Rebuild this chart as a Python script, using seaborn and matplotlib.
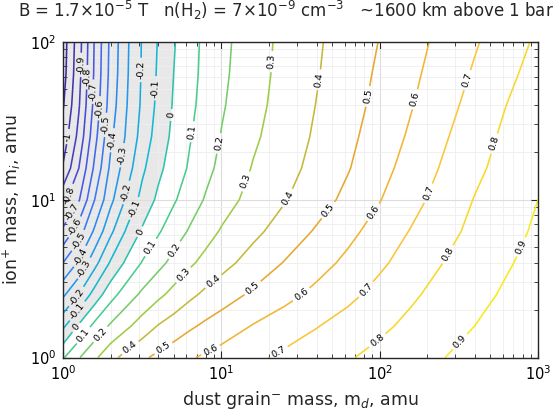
import numpy as np
import matplotlib
matplotlib.use("Agg")
import matplotlib.pyplot as plt
import matplotlib.transforms as mtransforms
from matplotlib.scale import InvertedLogTransform
import seaborn as sns

# ---------------- data ----------------
# grid exponents: dust grain mass m_d = 10**log_md, ion mass m_i = 10**log_mi
log_md = [0.0, 0.1, 0.2, 0.3, 0.4, 0.5, 0.6, 0.7, 0.8, 0.9, 1.0,
          1.2, 1.4, 1.6, 1.8, 2.0, 2.2, 2.4, 2.6, 2.8, 3.0]
log_mi = [0.0, 0.2, 0.4, 0.6, 0.8, 1.0, 1.2, 1.4, 1.6, 1.8, 2.0]

# field values along each row (fixed ion mass), one value per log_md column
z_mi_00 = [0.09, 0.193, 0.282, 0.369, 0.433, 0.483, 0.522, 0.556, 0.590, 0.615, 0.637,
           0.681, 0.720, 0.756, 0.792, 0.827, 0.863, 0.898, 0.927, 0.955, 0.984]
z_mi_02 = [-0.12, 0.013, 0.127, 0.213, 0.280, 0.344, 0.404, 0.444, 0.484, 0.518, 0.547,
           0.605, 0.650, 0.695, 0.738, 0.781, 0.822, 0.861, 0.900, 0.931, 0.962]
z_mi_04 = [-0.32, -0.20, -0.06, 0.061, 0.148, 0.218, 0.276, 0.329, 0.378, 0.419, 0.453,
           0.516, 0.570, 0.624, 0.676, 0.731, 0.786, 0.831, 0.873, 0.912, 0.945]
z_mi_06 = [-0.50, -0.386, -0.233, -0.089, 0.018, 0.106, 0.170, 0.229, 0.284, 0.328, 0.367,
           0.439, 0.505, 0.563, 0.622, 0.683, 0.742, 0.800, 0.845, 0.891, 0.929]
z_mi_08 = [-0.68, -0.55, -0.383, -0.223, -0.089, 0.012, 0.088, 0.152, 0.210, 0.262, 0.308,
           0.376, 0.443, 0.510, 0.574, 0.640, 0.706, 0.769, 0.823, 0.870, 0.914]
z_mi_10 = [-0.83, -0.709, -0.50, -0.327, -0.187, -0.068, 0.019, 0.089, 0.151, 0.208, 0.257,
           0.333, 0.394, 0.458, 0.525, 0.596, 0.668, 0.737, 0.804, 0.852, 0.900]
z_mi_12 = [-0.99, -0.80, -0.58, -0.38, -0.25, -0.12, -0.025, 0.047, 0.112, 0.173, 0.223,
           0.306, 0.367, 0.429, 0.494, 0.567, 0.639, 0.710, 0.778, 0.836, 0.889]
z_mi_14 = [-1.06, -0.870, -0.633, -0.422, -0.288, -0.163, -0.057, 0.024, 0.093, 0.150, 0.204,
           0.284, 0.350, 0.413, 0.477, 0.545, 0.615, 0.687, 0.756, 0.820, 0.877]
z_mi_16 = [-1.11, -0.910, -0.669, -0.453, -0.306, -0.183, -0.077, 0.010, 0.077, 0.135, 0.189,
           0.269, 0.338, 0.402, 0.463, 0.527, 0.595, 0.665, 0.733, 0.800, 0.861]
z_mi_18 = [-1.14, -0.931, -0.684, -0.470, -0.315, -0.190, -0.088, 0.001, 0.068, 0.127, 0.179,
           0.261, 0.330, 0.393, 0.453, 0.515, 0.579, 0.645, 0.711, 0.776, 0.838]
z_mi_20 = [-1.15, -0.942, -0.691, -0.477, -0.320, -0.193, -0.095, -0.007, 0.063, 0.123, 0.173,
           0.256, 0.326, 0.387, 0.445, 0.503, 0.565, 0.627, 0.690, 0.753, 0.816]

contour_levels = [-1.1, -1.0, -0.9, -0.8, -0.7, -0.6, -0.5, -0.4, -0.3, -0.2, -0.1,
                  0.0, 0.1, 0.2, 0.3, 0.4, 0.5, 0.6, 0.7, 0.8, 0.9]

title_text = (r"B = 1.7$\times$10$^{-5}$ T   n(H$_2$) = 7$\times$10$^{-9}$ cm$^{-3}$"
              r"   ~1600 km above 1 bar")
xlabel_text = r"dust grain$^{-}$ mass, m$_d$, amu"
ylabel_text = r"ion$^{+}$ mass, m$_i$, amu"

# ---------------- style / label placement ----------------
sns.set_style("ticks")
plt.rcParams["font.family"] = ["DejaVu Sans"]
plt.rcParams["mathtext.fontset"] = "dejavusans"
plt.rcParams["axes.unicode_minus"] = False

anchor_colors = ["#3d2b9e", "#4540c0", "#4757e6", "#3878f5", "#2199eb", "#14b8d1",
                 "#4ccc8c", "#9ecc47", "#e6a82e", "#fac438", "#f5eb1f"]
level_colors = sns.blend_palette(anchor_colors, n_colors=len(contour_levels))

# where the in-line contour labels sit (m_d, m_i)
label_spots = [
    (1.087, 25.1), (1.285, 71.6),
    (1.439, 59.8), (1.14, 10.5), (1.578, 48.4), (1.186, 8.2),
    (1.706, 38.0), (1.225, 6.59), (1.879, 29.8), (1.285, 5.42),
    (2.018, 23.9), (1.352, 4.26), (2.333, 19.2), (1.419, 3.59),
    (3.11, 66.5), (2.535, 11.1), (1.256, 2.37),
    (3.83, 50.9), (2.80, 8.83), (1.285, 1.905),
    (4.76, 34.5), (3.11, 6.22), (1.222, 1.538),
    (6.53, 27.0), (3.65, 4.92), (1.337, 1.39),
    (9.57, 22.8), (5.12, 4.75), (1.714, 1.41),
    (20.3, 75.2), (14.5, 13.0), (5.78, 3.33),
    (41.6, 57.5), (26.5, 10.2), (8.95, 3.03), (2.61, 1.18),
    (84.9, 45.1), (48.6, 8.41), (15.8, 2.75), (4.29, 1.15),
    (167.5, 43.4), (93.5, 8.2), (32.2, 2.49), (8.47, 1.13),
    (354.8, 57.5), (203.0, 11.0), (82.8, 2.68), (22.9, 1.09),
    (522.0, 22.8), (271.6, 4.47), (98.2, 1.26),
    (771.0, 5.05), (322.0, 1.26),
]

# ---------------- figure ----------------
W, H = 556, 412
fig = plt.figure(figsize=(W / 100, H / 100), dpi=100)
ax = fig.add_axes([63 / W, (H - 357.5) / H, 475 / W, 315.5 / H])
ax.set_xscale("log")
ax.set_yscale("log")
ax.set_xlim(1, 1000)
ax.set_ylim(1, 100)

Z = np.array([z_mi_00, z_mi_02, z_mi_04, z_mi_06, z_mi_08, z_mi_10,
              z_mi_12, z_mi_14, z_mi_16, z_mi_18, z_mi_20])

# contour in exponent space, mapped onto the log axes (10**u, 10**v)
exp_tr = mtransforms.BlendedGenericTransform(InvertedLogTransform(10),
                                             InvertedLogTransform(10))
tr = exp_tr + ax.transData

# grey shading of the negative region
ax.contourf(log_md, log_mi, Z, levels=[-10, 0.0], colors=["#e8e8e8"],
            zorder=0.5, transform=tr)

cs = ax.contour(log_md, log_mi, Z, levels=contour_levels, colors=level_colors,
                linewidths=1.15, zorder=2, transform=tr)


def fmt(v):
    s = f"{round(v, 1):g}"
    return "0" if s == "-0" else s


ax.clabel(cs, cs.levels, inline=True, fmt=fmt, fontsize=6.8, inline_spacing=3,
          colors="black", manual=label_spots)

ax.set_xlim(1, 1000)
ax.set_ylim(1, 100)

ax.set_axisbelow("line")
ax.grid(True, which="major", color="#dcdcdc", linewidth=0.8)
ax.grid(True, which="minor", color="#eeeeee", linewidth=0.6)

ax.tick_params(which="both", direction="in", top=True, right=True,
               colors="#262626", labelcolor="black")
ax.tick_params(which="major", length=5, width=0.8, labelsize=10.5)
ax.tick_params(axis="x", which="major", pad=5)
ax.tick_params(axis="y", which="major", pad=5)
ax.tick_params(which="minor", length=3, width=0.6)
for sp in ax.spines.values():
    sp.set_linewidth(1.0)
    sp.set_color("#262626")

ax.set_xlabel(xlabel_text, fontsize=12.5)
ax.xaxis.set_label_coords(0.5, -0.1)
ax.set_ylabel(ylabel_text, fontsize=12.5)
ax.yaxis.set_label_coords(-0.085, 0.5)

fig.text(18 / W, 1 - 10.5 / H, title_text, fontsize=12, ha="left", va="center")

fig.savefig("out.png", dpi=100)
